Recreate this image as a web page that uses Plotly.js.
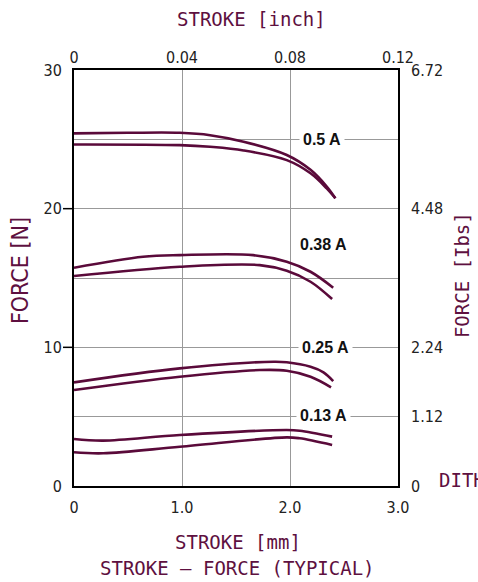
<!DOCTYPE html>
<html>
<head>
<meta charset="utf-8">
<script src="https://cdn.plot.ly/plotly-3.0.1.min.js"></script>
<style>html,body{margin:0;padding:0;background:#fff;}#chart{width:478px;height:582px;}</style>
</head>
<body>
<div id="chart"></div>
<script>
// Stroke [mm] vs Force [N], two curves (hysteresis) per current
const x05a = [0, 0.5, 0.98, 1.26, 1.57, 1.97, 2.19, 2.34, 2.42];
const y05a = [25.43, 25.47, 25.47, 25.3, 24.83, 23.87, 22.8, 21.6, 20.75];
const x05b = [0, 0.98, 1.26, 1.57, 1.97, 2.19, 2.34, 2.42];
const y05b = [24.63, 24.58, 24.46, 24.2, 23.5, 22.55, 21.46, 20.75];

const x038a = [0, 0.64, 0.98, 1.66, 1.97, 2.19, 2.40];
const y038a = [15.74, 16.53, 16.65, 16.65, 16.17, 15.45, 14.3];
const x038b = [0, 0.98, 1.72, 1.97, 2.19, 2.39];
const y038b = [15.14, 15.81, 15.93, 15.52, 14.73, 13.48];

const x025a = [0, 0.98, 1.85, 1.97, 2.19, 2.31, 2.40];
const y025a = [7.47, 8.48, 8.96, 8.92, 8.6, 8.2, 7.57];
const x025b = [0, 0.98, 1.72, 1.97, 2.19, 2.38];
const y025b = [6.92, 7.88, 8.36, 8.31, 7.88, 7.12];

const x013a = [0, 0.27, 0.98, 1.97, 2.09, 2.39];
const y013a = [3.39, 3.27, 3.68, 4.04, 3.99, 3.56];
const x013b = [0, 0.27, 0.98, 1.97, 2.09, 2.39];
const y013b = [2.43, 2.36, 2.83, 3.51, 3.44, 2.96];

const currentLabels = ['0.5 A', '0.38 A', '0.25 A', '0.13 A'];
const labelX = [2.30, 2.31, 2.33, 2.31];
const labelY = [25, 17.45, 10, 5.1];

const mmTicks = [0, 1, 2, 3];
const mmTickText = ['0', '1.0', '2.0', '3.0'];
const inchTicks = [0, 0.04, 0.08, 0.12];
const inchTickText = ['0', '0.04', '0.08', '0.12'];
const nTicks = [0, 5, 10, 15, 20, 25, 30];
const nTickText = ['0', '', '10', '', '20', '', '30'];
const lbsTicks = [0, 1.12, 2.24, 4.48, 6.72];
const lbsTickText = ['0', '1.12', '2.24', '4.48', '6.72'];

const curveColor = '#5a0a3a';
const titleColor = '#5e1040';
const tickFont = {family: '"Liberation Sans Narrow", "DejaVu Sans Condensed", sans-serif', size: 16, color: '#222'};
const monoFont = {family: '"DejaVu Sans Mono", "Liberation Mono", monospace', size: 19, color: titleColor};

const pairs = [[x05a, y05a], [x05b, y05b], [x038a, y038a], [x038b, y038b],
               [x025a, y025a], [x025b, y025b], [x013a, y013a], [x013b, y013b]];
const traces = pairs.map(p => ({
  x: p[0], y: p[1], type: 'scatter', mode: 'lines',
  line: {color: curveColor, width: 2.6, shape: 'spline', smoothing: 1},
  hoverinfo: 'skip', showlegend: false, xaxis: 'x', yaxis: 'y'
}));
// invisible trace for the secondary (inch / lbs) axes
traces.push({x: [0, 0.12], y: [0, 6.72], type: 'scatter', mode: 'none',
  xaxis: 'x2', yaxis: 'y2', hoverinfo: 'skip', showlegend: false});

const annotations = currentLabels.map((t, i) => ({
  text: '<b>' + t + '</b>', x: labelX[i], y: labelY[i], xref: 'x', yref: 'y',
  xanchor: 'center', yanchor: 'middle',
  showarrow: false, bgcolor: '#ffffff', borderpad: 3,
  font: {family: '"Liberation Sans Narrow", "Liberation Sans", sans-serif', size: 16, color: '#111'}
}));
function title(text, x, y, extra) {
  return Object.assign({text: text, xref: 'paper', yref: 'paper', x: x, y: y,
    xanchor: 'center', yanchor: 'middle', showarrow: false, font: monoFont}, extra || {});
}
annotations.push(
  title('STROKE [inch]', 0.549, 1.1226),
  title('STROKE [mm]', 0.506, -0.1346),
  title('STROKE – FORCE (TYPICAL)', 0.506, -0.197),
  title('FORCE [N]', -0.1667, 0.519, {textangle: -90,
    font: {family: '"Liberation Sans Narrow", "DejaVu Sans Condensed", sans-serif', size: 23, color: titleColor}}),
  title('FORCE [Ibs]', 1.1975, 0.507, {textangle: -90}),
  title('DITHER', 1.12, 0.0144, {xanchor: 'left'})
);

const shapes = [10, 20].map(v => ({
  type: 'line', xref: 'paper', yref: 'y', x0: -0.034, x1: 0, y0: v, y1: v,
  line: {color: '#000', width: 1.5}
}));

const layout = {
  width: 478, height: 582,
  margin: {l: 74, r: 80, t: 70, b: 96},
  paper_bgcolor: '#fff', plot_bgcolor: '#fff',
  showlegend: false,
  xaxis: {range: [0, 3], tickmode: 'array', tickvals: mmTicks, ticktext: mmTickText,
    showgrid: true, gridcolor: '#999', gridwidth: 1, zeroline: false,
    showline: true, linecolor: '#000', linewidth: 2, mirror: true, ticks: '',
    ticklabelstandoff: 6, tickfont: tickFont, fixedrange: true},
  yaxis: {range: [0, 30], tickmode: 'array', tickvals: nTicks, ticktext: nTickText,
    showgrid: true, gridcolor: '#999', gridwidth: 1, zeroline: false,
    showline: true, linecolor: '#000', linewidth: 2, mirror: true, ticks: '',
    ticklabelstandoff: 7, tickfont: tickFont, fixedrange: true},
  xaxis2: {range: [0, 0.12], overlaying: 'x', side: 'top', anchor: 'y2',
    tickmode: 'array', tickvals: inchTicks, ticktext: inchTickText,
    showgrid: false, zeroline: false, showline: false, ticks: '',
    ticklabelstandoff: 3, tickfont: tickFont, fixedrange: true},
  yaxis2: {range: [0, 6.72], overlaying: 'y', side: 'right', anchor: 'x2',
    tickmode: 'array', tickvals: lbsTicks, ticktext: lbsTickText,
    showgrid: false, zeroline: false, showline: false, ticks: '',
    ticklabelstandoff: 12, tickfont: tickFont, fixedrange: true},
  annotations: annotations,
  shapes: shapes
};

Plotly.newPlot('chart', traces, layout, {displayModeBar: false, staticPlot: true});
</script>
</body>
</html>
